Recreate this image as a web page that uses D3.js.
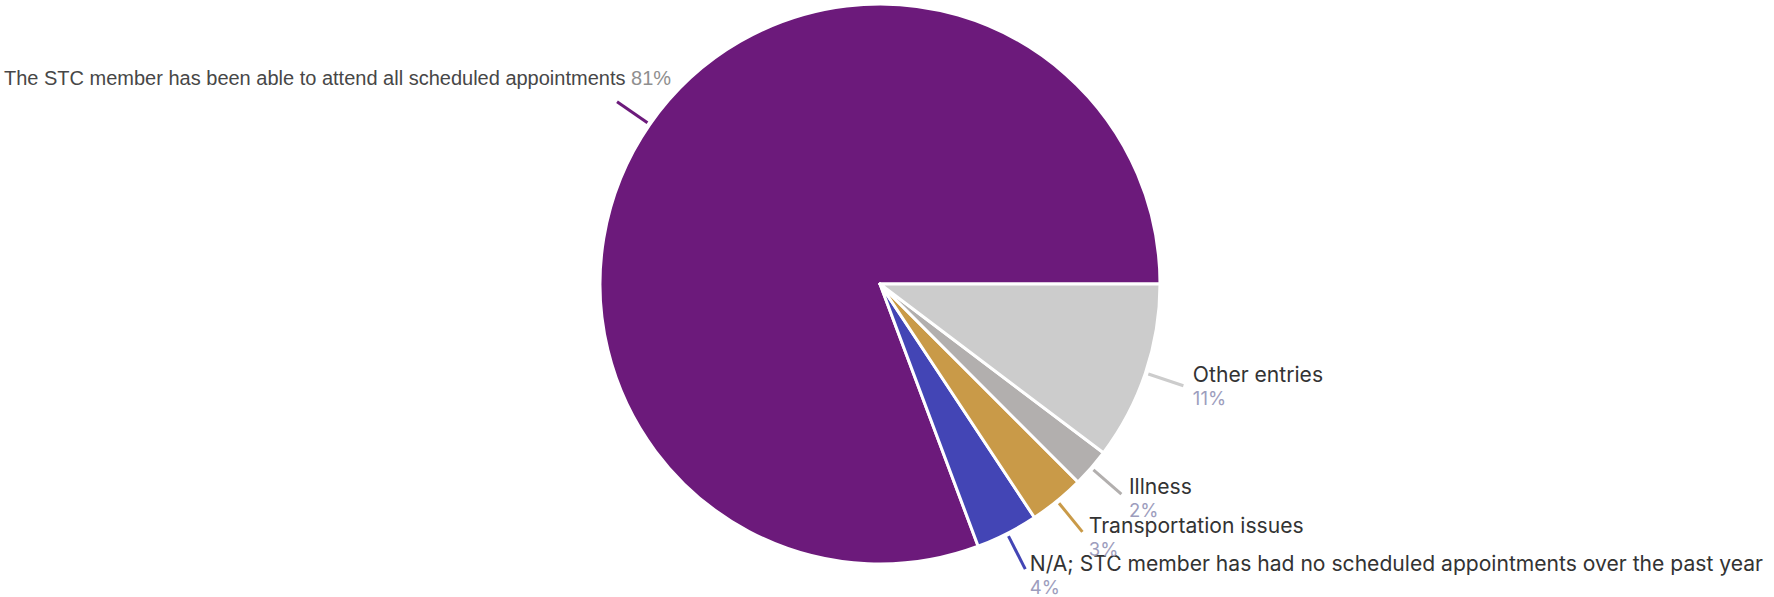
<!DOCTYPE html>
<html>
<head>
<meta charset="utf-8">
<script src="https://cdn.jsdelivr.net/npm/d3@7"></script>
<style>
  html, body { margin: 0; padding: 0; background: #fff; }
  svg { display: block; }
</style>
</head>
<body>
<svg id="chart" width="1774" height="597"></svg>
<script>
// ---- data ----
const categories = [
  "The STC member has been able to attend all scheduled appointments",
  "N/A; STC member has had no scheduled appointments over the past year",
  "Transportation issues",
  "Illness",
  "Other entries"
];
const values = [80.7, 3.6, 3.2, 2.2, 10.3];
const percentLabels = ["81%", "4%", "3%", "2%", "11%"];
const colors = ["#6c1a7b", "#4345b5", "#c99a48", "#b2afae", "#cccccc"];

// ---- layout ----
const svg = d3.select("#chart");
const cx = 880, cy = 284, r = 280;
const g = svg.append("g").attr("transform", `translate(${cx},${cy})`);

const pie = d3.pie().sort(null).value(d => d)
  .startAngle(Math.PI / 2).endAngle(Math.PI / 2 - 2 * Math.PI);
const arcs = pie(values);
const arc = d3.arc().innerRadius(0).outerRadius(r);

g.selectAll("path.slice").data(arcs).join("path")
  .attr("class", "slice")
  .attr("d", arc)
  .attr("fill", (d, i) => colors[i])
  .attr("stroke", "#fff")
  .attr("stroke-width", 3)
  .attr("stroke-linejoin", "round");

const pt = (a, rad) => [Math.sin(a) * rad, -Math.cos(a) * rad];
const mid = d => (d.startAngle + d.endAngle) / 2;

// leaders
g.selectAll("line.leader").data(arcs).join("line")
  .attr("class", "leader")
  .attr("x1", d => pt(mid(d), r + 3)[0])
  .attr("y1", d => pt(mid(d), r + 3)[1])
  .attr("x2", d => pt(mid(d), r + 40)[0])
  .attr("y2", d => pt(mid(d), r + 40)[1])
  .attr("stroke", (d, i) => colors[i])
  .attr("stroke-width", 3);

// left (first) label: single line, Arial-like
const first = arcs[0];
const fe = pt(mid(first), r + 40);
const lt = g.append("text")
  .attr("x", fe[0] + 54)
  .attr("y", fe[1] - 17)
  .attr("text-anchor", "end")
  .style("font-family", "'Liberation Sans', Arial, sans-serif")
  .style("font-size", "20px");
lt.append("tspan").attr("fill", "#474747").text(categories[0] + " ");
lt.append("tspan").attr("fill", "#8f8f8f").text(percentLabels[0]);

// right labels: two lines
const rightArcs = arcs.slice(1);
const lg = g.selectAll("g.rlabel").data(rightArcs).join("g").attr("class", "rlabel")
  .attr("transform", d => {
    const p = pt(mid(d), r + 50);
    return `translate(${p[0]},${p[1]})`;
  });
lg.append("text")
  .attr("x", 0).attr("y", -7)
  .style("font-family", "Inter, sans-serif")
  .style("font-size", "21.1px")
  .attr("fill", "#333333")
  .text((d, i) => categories[i + 1]);
lg.append("text")
  .attr("x", 0).attr("y", 16)
  .style("font-family", "Inter, sans-serif")
  .style("font-size", "18.5px")
  .attr("fill", "#9d9dbd")
  .text((d, i) => percentLabels[i + 1]);
</script>
</body>
</html>
